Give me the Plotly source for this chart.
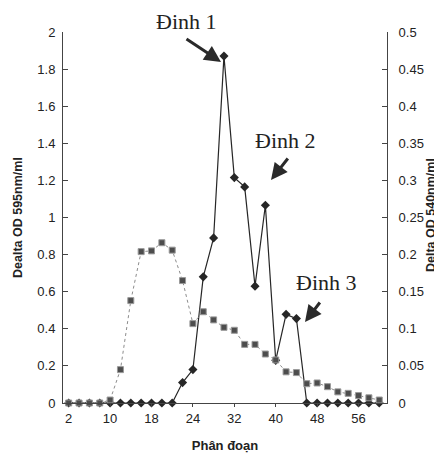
import plotly.graph_objects as go

# Fractions (category positions 0..30), labels shown every 4th category
fraction_index = list(range(31))
tick_positions = [0, 4, 8, 12, 16, 20, 24, 28]
tick_labels = ["2", "10", "18", "24", "32", "40", "48", "56"]

# Delta OD 595nm/ml (left axis) - black diamonds
od595 = [0, 0, 0, 0, 0, 0, 0, 0, 0, 0, 0,
         0.11, 0.18, 0.68, 0.89, 1.87, 1.215, 1.165, 0.63, 1.066,
         0.23, 0.478, 0.455, 0, 0, 0, 0, 0, 0, 0, 0]

# Delta OD 540nm/ml (right axis) - gray squares
od540 = [0, 0, 0, 0, 0.004, 0.045, 0.138, 0.204, 0.205, 0.216, 0.206,
         0.165, 0.107, 0.123, 0.112, 0.102, 0.098, 0.079, 0.079, 0.066,
         0.058, 0.042, 0.041, 0.026, 0.027, 0.022, 0.015, 0.013, 0.010,
         0.007, 0.004]

left_ticks = [0, 0.2, 0.4, 0.6, 0.8, 1, 1.2, 1.4, 1.6, 1.8, 2]
left_ticktext = ["0", "0.2", "0.4", "0.6", "0.8", "1", "1.2", "1.4", "1.6", "1.8", "2"]
right_ticks = [0, 0.05, 0.1, 0.15, 0.2, 0.25, 0.3, 0.35, 0.4, 0.45, 0.5]
right_ticktext = ["0", "0.05", "0.1", "0.15", "0.2", "0.25", "0.3", "0.35", "0.4", "0.45", "0.5"]

fig = go.Figure()
fig.add_trace(go.Scatter(
    x=fraction_index, y=od540, yaxis="y2", mode="lines+markers",
    line=dict(color="#8c8c8c", width=1, dash="dot"),
    marker=dict(symbol="square", size=6, color="#4d4d4d",
                line=dict(color="#9a9a9a", width=1)),
    cliponaxis=False, showlegend=False))
fig.add_trace(go.Scatter(
    x=fraction_index, y=od595, mode="lines+markers",
    line=dict(color="#262626", width=1.2),
    marker=dict(symbol="diamond", size=7, color="#262626"),
    cliponaxis=False, showlegend=False))

# The page body has an 8px default margin, so the figure is 8px smaller
OFF = 8
PAGE_W, PAGE_H = 442, 459
W, H = PAGE_W - OFF, PAGE_H - OFF
# plot area in page pixels: x 63..387, y 32..403
L, R, T, B = 63 - OFF, PAGE_W - 387, 32 - OFF, PAGE_H - 403
pw, ph = W - L - R, H - T - B

def px(x):
    return (x - OFF - L) / pw

def py(y):
    return (PAGE_H - B - y) / ph

axis_font = dict(family="Liberation Sans, Arial, sans-serif", size=13, color="#222")
title_font = dict(family="Liberation Sans, Arial, sans-serif", size=12.5, color="#222")

fig.update_layout(
    width=W, height=H,
    margin=dict(l=L, r=R, t=T, b=B, autoexpand=False),
    paper_bgcolor="white", plot_bgcolor="white",
    xaxis=dict(range=[-0.55, 30.75], tickmode="array", tickvals=tick_positions,
               ticktext=tick_labels, showgrid=False, zeroline=False,
               showline=True, linecolor="#444", linewidth=1,
               ticks="outside", ticklen=3, tickcolor="#444",
               tickfont=axis_font, automargin=False,
               title=dict(text="<b>Phân đoạn</b>", font=dict(title_font, size=13), standoff=16)),
    yaxis=dict(range=[0, 2], tickmode="array", tickvals=left_ticks, ticktext=left_ticktext,
               showgrid=False, zeroline=False, showline=True, linecolor="#444",
               linewidth=1, ticks="inside", ticklen=5, tickcolor="#444",
               tickfont=axis_font, ticklabelstandoff=4, automargin=False),
    yaxis2=dict(range=[0, 0.5], overlaying="y", side="right", anchor="x",
                tickmode="array", tickvals=right_ticks, ticktext=right_ticktext,
                showgrid=False, zeroline=False, showline=True, linecolor="#444",
                linewidth=1, ticks="inside", ticklen=5, tickcolor="#444",
                tickfont=axis_font, ticklabelstandoff=8, automargin=False),
)

# Axis titles placed as rotated annotations
fig.add_annotation(x=px(18), y=py(218), xref="paper", yref="paper",
                   text="<b>Dealta OD 595nm/ml</b>", textangle=-90, showarrow=False,
                   font=title_font, xanchor="center", yanchor="middle")
fig.add_annotation(x=px(431), y=py(215), xref="paper", yref="paper",
                   text="<b>Delta OD 540nm/ml</b>", textangle=-90, showarrow=False,
                   font=title_font, xanchor="center", yanchor="middle")

serif = dict(family="Liberation Serif, Times New Roman, serif", size=22, color="#222")
labels = [("Đinh 1", 186, 22), ("Đinh 2", 285, 140), ("Đinh 3", 326, 282)]
for text, x, y in labels:
    fig.add_annotation(x=px(x), y=py(y), xref="paper", yref="paper", text=text,
                       showarrow=False, font=serif, xanchor="center", yanchor="middle")

arrows = [((221, 62), (185, 38)), ((271, 180), (289, 157)), ((305, 322), (321, 301))]
for (hx, hy), (tx, ty) in arrows:
    fig.add_annotation(x=px(hx), y=py(hy), xref="paper", yref="paper", text="",
                       showarrow=True, ax=tx - hx, ay=ty - hy,
                       arrowhead=2, arrowsize=1.1, arrowwidth=3, arrowcolor="#2a2a2a")

fig.write_html("out.html")
